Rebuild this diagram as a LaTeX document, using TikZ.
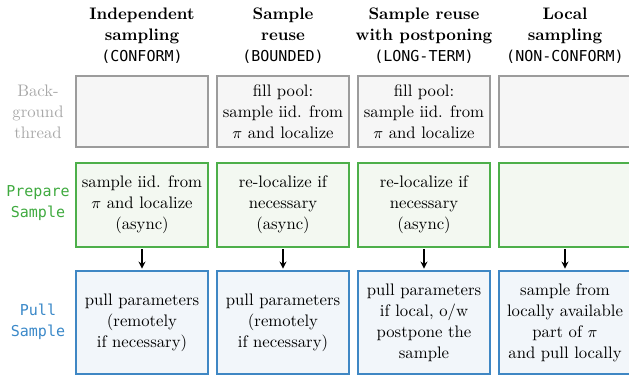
\documentclass[tikz,border=0pt]{standalone}
\usepackage{fontspec}
\setmonofont{DejaVu Sans Mono}[Scale=0.9]
\usetikzlibrary{arrows.meta}

\definecolor{bgline}{HTML}{9C9C9C}
\definecolor{bgfill}{HTML}{F6F6F6}
\definecolor{prepline}{HTML}{4DAF4A}
\definecolor{prepfill}{HTML}{F3F8F1}
\definecolor{pullline}{HTML}{3F87C4}
\definecolor{pullfill}{HTML}{F2F6FA}
\definecolor{bgtext}{HTML}{A8A8A8}
\definecolor{preptext}{HTML}{3FAA3F}
\definecolor{pulltext}{HTML}{3A88C8}

\tikzset{
    txt/.style={align=center, inner sep=0pt, font=\fontsize{9.5}{12}\selectfont},
    box/.style={txt, draw, line width=0.75pt, minimum width=2.64cm},
    bgbox/.style={box, draw=bgline, fill=bgfill, minimum height=1.42cm},
    prepbox/.style={box, draw=prepline, fill=prepfill, minimum height=1.68cm},
    pullbox/.style={box, draw=pullline, fill=pullfill, minimum height=2.06cm},
    lane/.style={txt},
    flow/.style={-{Stealth[length=4pt,width=4pt]}, line width=0.6pt, shorten <=1pt, shorten >=1pt},
}

\begin{document}
\begin{tikzpicture}
        \useasboundingbox (0,0) rectangle (12.58,-7.5);

        % column headers
        \node[txt] at (2.84,-0.72) (hdr1) {\textbf{Independent}\\\textbf{sampling}\\\texttt{(CONFORM)}};
        \node[txt] at (5.66,-0.72) (hdr2) {\textbf{Sample}\\\textbf{reuse}\\\texttt{(BOUNDED)}};
        \node[txt] at (8.48,-0.72) (hdr3) {\textbf{Sample reuse}\\\textbf{with postponing}\\\texttt{(LONG-TERM)}};
        \node[txt] at (11.30,-0.72) (hdr4) {\textbf{Local}\\\textbf{sampling}\\\texttt{(NON-CONFORM)}};

        % row labels
        \node[lane, text=bgtext] at (0.76,-2.23) (bgthread) {Back-\\ground\\thread};
        \node[lane, text=preptext] at (0.76,-4.07) (prepsample) {\texttt{Prepare}\\\texttt{Sample}};
        \node[lane, text=pulltext] at (0.76,-6.43) (pullsample) {\texttt{Pull}\\\texttt{Sample}};

        % background thread
        \node[bgbox] at (2.84,-2.23) (bg1) {};
        \node[bgbox] at (5.66,-2.23) (bg2) {fill pool:\\sample iid. from\\$\pi$ and localize};
        \node[bgbox] at (8.48,-2.23) (bg3) {fill pool:\\sample iid. from\\$\pi$ and localize};
        \node[bgbox] at (11.30,-2.23) (bg4) {};

        % prepare sample
        \node[prepbox] at (2.84,-4.10) (prep1) {sample iid. from\\$\pi$ and localize\\(async)};
        \node[prepbox] at (5.66,-4.10) (prep2) {re-localize if\\necessary\\(async)};
        \node[prepbox] at (8.48,-4.10) (prep3) {re-localize if\\necessary\\(async)};
        \node[prepbox] at (11.30,-4.10) (prep4) {};

        % pull sample
        \node[pullbox] at (2.84,-6.45) (pull1) {pull parameters\\(remotely\\if necessary)};
        \node[pullbox] at (5.66,-6.45) (pull2) {pull parameters\\(remotely\\if necessary)};
        \node[pullbox] at (8.48,-6.45) (pull3) {pull parameters\\if local, o/w\\postpone the\\sample};
        \node[pullbox] at (11.30,-6.45) (pull4) {sample from\\locally available\\part of $\pi$\\and pull locally};

        \draw[flow] (prep1) -- (pull1);
        \draw[flow] (prep2) -- (pull2);
        \draw[flow] (prep3) -- (pull3);
        \draw[flow] (prep4) -- (pull4);

    \end{tikzpicture}
\end{document}
